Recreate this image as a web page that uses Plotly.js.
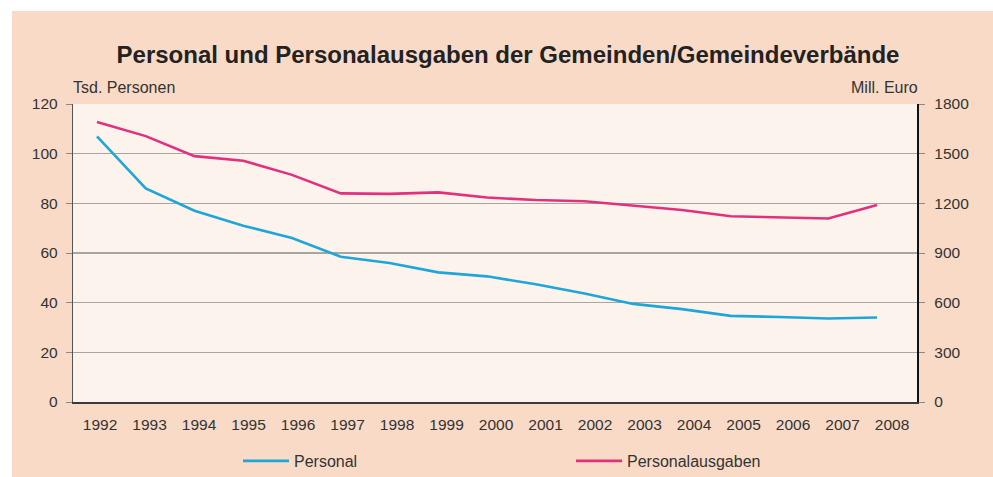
<!DOCTYPE html>
<html>
<head>
<meta charset="utf-8">
<script src="https://cdn.plot.ly/plotly-3.0.1.min.js"></script>
<style>
html,body{margin:0;padding:0;background:#fff;overflow:hidden;}
#chart{width:993px;height:477px;}
</style>
</head>
<body>
<div id="chart"></div>
<script>
// Data
var years = [1992,1993,1994,1995,1996,1997,1998,1999,2000,2001,2002,2003,2004,2005,2006,2007,2008];
var personal = [107, 86, 77, 71, 66, 58.5, 56, 52.2, 50.6, 47.4, 43.7, 39.5, 37.4, 34.7, 34.2, 33.6, 34.0];        // Tsd. Personen
var personalausgaben = [1692, 1606, 1485, 1457, 1372, 1260, 1257, 1266, 1235, 1220, 1213, 1188, 1160, 1122, 1115, 1108, 1190]; // Mill. Euro
var leftTicks = [0, 20, 40, 60, 80, 100, 120];
var rightTicks = [0, 300, 600, 900, 1200, 1500, 1800];
var yearLabels = years.map(String);

var font = 'Liberation Sans, Arial, Helvetica, sans-serif';

var traces = [
  {x: years, y: personal, type: 'scatter', mode: 'lines', name: 'Personal',
   line: {color: '#1fa6d9', width: 2.6}, xaxis: 'x', yaxis: 'y'},
  {x: years, y: personalausgaben, type: 'scatter', mode: 'lines', name: 'Personalausgaben',
   line: {color: '#e2307c', width: 2.6}, xaxis: 'x', yaxis: 'y2'},
  {x: [], y: [], type: 'scatter', mode: 'lines', showlegend: false, hoverinfo: 'skip',
   xaxis: 'x2', yaxis: 'y'}
];

var layout = {
  width: 993, height: 477,
  margin: {l: 73, r: 76, t: 104, b: 75, pad: 0, autoexpand: false},
  paper_bgcolor: '#ffffff',
  plot_bgcolor: 'rgba(0,0,0,0)',
  font: {family: font, size: 15.5, color: '#333'},
  title: {text: '<b>Personal und Personalausgaben der Gemeinden/Gemeindeverbände</b>',
          font: {family: font, size: 24, color: '#222'},
          xref: 'container', x: 0.5116, xanchor: 'center',
          yref: 'container', y: 0.885, yanchor: 'middle'},
  showlegend: true,
  legend: {orientation: 'h', xref: 'container', yref: 'container',
           x: 0.2397, xanchor: 'left', y: 0.0335, yanchor: 'middle',
           bgcolor: 'rgba(0,0,0,0)', font: {family: font, size: 16, color: '#333'},
           itemwidth: 46, entrywidth: 272, entrywidthmode: 'pixels', traceorder: 'normal'},
  xaxis: {range: [1991.508, 2008.82], showticklabels: false, ticks: '', showgrid: false,
          zeroline: false, showline: false, fixedrange: true},
  xaxis2: {overlaying: 'x', anchor: 'y', side: 'bottom', range: [1991.4545, 2008.505],
           tickmode: 'array', tickvals: years, ticktext: yearLabels, ticks: '',
           showgrid: false, zeroline: false, showline: true, linecolor: '#3a3a3a', linewidth: 1.5,
           tickfont: {family: font, size: 15.5, color: '#333'}, ticklabelstandoff: 8},
  yaxis: {range: [0, 120], tickmode: 'array', tickvals: leftTicks, ticks: 'outside', ticklen: 6,
          tickcolor: '#888', tickwidth: 1, showgrid: true, gridcolor: '#a9a5a2', gridwidth: 1.6,
          zeroline: false, showline: true, linecolor: '#555', linewidth: 1.2,
          tickfont: {family: font, size: 15.5, color: '#333'}, ticklabelstandoff: 5},
  yaxis2: {overlaying: 'y', side: 'right', anchor: 'x', range: [0, 1800], tickmode: 'array',
           tickvals: rightTicks, ticks: 'outside', ticklen: 6, tickcolor: '#888', tickwidth: 1,
           showgrid: false, zeroline: false, showline: true, linecolor: '#111', linewidth: 2.2,
           tickfont: {family: font, size: 15.5, color: '#333'}, ticklabelstandoff: 6},
  shapes: [
    {type: 'rect', xref: 'paper', yref: 'paper', x0: -0.0723, x1: 1.1, y0: -0.27, y1: 1.312,
     fillcolor: '#f8dac6', line: {width: 0}, layer: 'below'},
    {type: 'rect', xref: 'paper', yref: 'paper', x0: 0, x1: 1, y0: 0, y1: 1,
     fillcolor: '#fdf3ed', line: {width: 0}, layer: 'below'}
  ],
  annotations: [
    {text: 'Tsd. Personen', xref: 'paper', yref: 'paper', x: -0.002, xanchor: 'left',
     y: 1.054, yanchor: 'middle', showarrow: false, font: {family: font, size: 16, color: '#333'}},
    {text: 'Mill. Euro', xref: 'paper', yref: 'paper', x: 1.003, xanchor: 'right',
     y: 1.054, yanchor: 'middle', showarrow: false, font: {family: font, size: 16, color: '#333'}}
  ]
};

Plotly.newPlot('chart', traces, layout, {displayModeBar: false, staticPlot: true});
</script>
</body>
</html>
